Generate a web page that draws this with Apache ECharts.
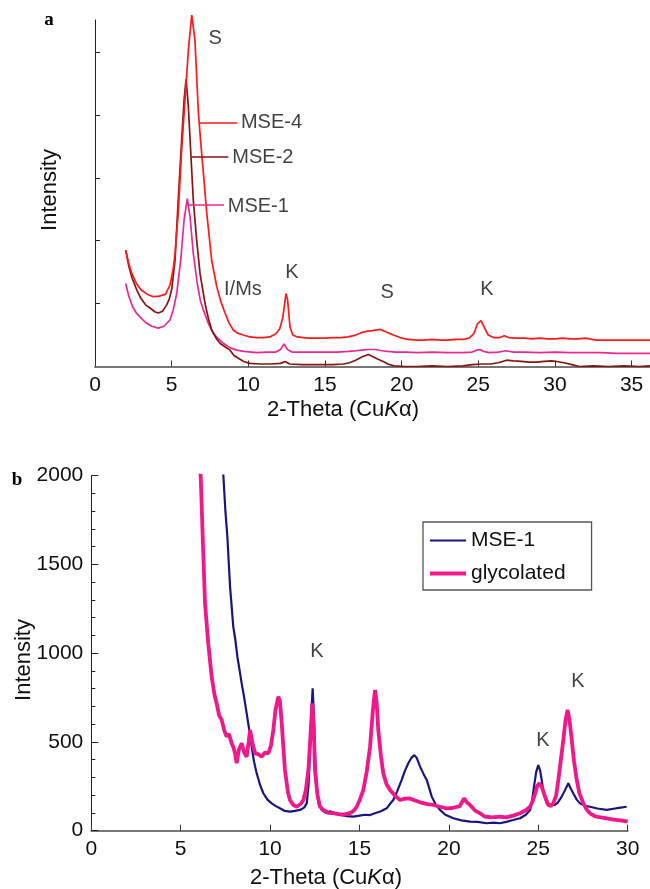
<!DOCTYPE html>
<html>
<head>
<meta charset="utf-8">
<script src="https://cdn.jsdelivr.net/npm/echarts@6/dist/echarts.min.js"></script>
<style>
html, body { margin: 0; padding: 0; background: #fff; }
#main { width: 650px; height: 889px; }
</style>
</head>
<body>
<div id="main"></div>
<script>
// panel a : [2-theta, intensity (tick units, offset curves)]
var mse4 = [[2.0,1.85],[2.2,1.64],[2.4,1.48],[2.7,1.32],[3.0,1.22],[3.4,1.15],[3.8,1.11],[4.2,1.12],[4.6,1.15],[4.9,1.3],[5.1,1.55],[5.22,1.8],[5.43,2.44],[5.65,3.44],[5.87,4.24],[6.09,5.03],[6.31,5.59],[6.52,5.19],[6.74,4.05],[6.9,3.55],[7.06,3.1],[7.29,2.44],[7.61,1.69],[7.94,1.27],[8.2,1.04],[8.48,0.85],[8.75,0.69],[9.02,0.58],[9.3,0.53],[9.67,0.5],[10.1,0.47],[10.55,0.46],[11.0,0.46],[11.4,0.47],[11.8,0.52],[12.05,0.6],[12.25,0.78],[12.38,1.02],[12.46,1.16],[12.56,1.06],[12.72,0.63],[12.9,0.5],[13.2,0.47],[13.6,0.46],[14.0,0.45],[14.5,0.45],[15.0,0.45],[15.5,0.46],[16.0,0.46],[16.5,0.47],[17.0,0.5],[17.3,0.53],[17.7,0.56],[18.1,0.57],[18.6,0.59],[19.0,0.55],[19.46,0.5],[19.9,0.46],[20.4,0.43],[20.98,0.42],[21.5,0.42],[22.0,0.43],[22.5,0.42],[23.0,0.42],[23.5,0.43],[24.0,0.43],[24.4,0.45],[24.7,0.52],[24.95,0.68],[25.18,0.73],[25.4,0.62],[25.65,0.5],[26.0,0.46],[26.4,0.46],[26.7,0.49],[27.0,0.46],[27.5,0.45],[28.0,0.45],[28.5,0.44],[29.0,0.45],[29.5,0.44],[30.0,0.44],[30.5,0.45],[31.0,0.44],[31.5,0.44],[32.0,0.45],[32.7,0.42],[33.5,0.42],[34.3,0.42],[35.2,0.42],[36.2,0.42]];
var mse2 = [[2.0,1.85],[2.2,1.6],[2.4,1.42],[2.72,1.22],[3.0,1.08],[3.3,0.98],[3.59,0.93],[3.9,0.87],[4.13,0.85],[4.4,0.88],[4.68,0.98],[4.85,1.08],[5.0,1.22],[5.22,1.69],[5.43,2.65],[5.65,3.6],[5.81,4.24],[5.94,4.57],[6.09,4.13],[6.26,3.34],[6.41,2.65],[6.63,2.01],[6.85,1.48],[7.18,1.0],[7.4,0.76],[7.61,0.58],[7.9,0.45],[8.15,0.37],[8.5,0.31],[8.81,0.26],[9.05,0.18],[9.35,0.13],[9.7,0.08],[10.1,0.05],[10.8,0.04],[11.5,0.04],[12.1,0.05],[12.4,0.08],[12.7,0.04],[13.5,0.03],[14.5,0.03],[15.5,0.03],[16.2,0.04],[16.6,0.06],[17.0,0.1],[17.4,0.15],[17.83,0.19],[18.1,0.16],[18.5,0.11],[18.8,0.08],[19.1,0.04],[19.5,0.01],[20.2,0.0],[21.0,0.0],[22.0,0.01],[23.0,0.0],[24.0,0.01],[24.6,0.03],[25.2,0.04],[25.8,0.04],[26.3,0.06],[26.85,0.1],[27.3,0.09],[27.8,0.08],[28.3,0.07],[28.8,0.07],[29.3,0.08],[29.8,0.09],[30.1,0.08],[30.6,0.06],[31.1,0.03],[31.6,0.0],[32.5,0.01],[33.5,0.0],[34.5,0.01],[35.5,0.0],[36.2,0.01]];
var mse1a = [[2.0,1.32],[2.2,1.12],[2.45,0.95],[2.7,0.85],[2.93,0.79],[3.3,0.7],[3.7,0.64],[4.13,0.61],[4.5,0.64],[4.89,0.74],[5.1,0.9],[5.33,1.16],[5.59,1.69],[5.81,2.33],[6.02,2.67],[6.2,2.38],[6.41,1.8],[6.67,1.32],[6.87,1.05],[7.07,0.9],[7.4,0.68],[7.72,0.53],[8.0,0.45],[8.37,0.37],[8.8,0.3],[9.24,0.26],[9.7,0.24],[10.2,0.23],[10.55,0.22],[11.2,0.23],[11.8,0.23],[12.1,0.27],[12.33,0.36],[12.55,0.27],[12.85,0.23],[13.5,0.23],[14.2,0.23],[15.0,0.23],[15.8,0.23],[16.5,0.24],[17.0,0.25],[17.4,0.26],[17.83,0.27],[18.3,0.27],[18.7,0.25],[19.1,0.24],[19.6,0.23],[20.3,0.23],[21.0,0.22],[22.0,0.23],[23.0,0.22],[24.0,0.22],[24.6,0.23],[24.9,0.26],[25.1,0.27],[25.35,0.24],[25.7,0.22],[26.3,0.23],[26.8,0.25],[27.3,0.23],[28.0,0.23],[29.0,0.22],[30.0,0.23],[31.0,0.22],[32.0,0.22],[33.0,0.22],[34.0,0.21],[35.0,0.21],[36.2,0.21]];

// panel b : [2-theta, intensity]
var mse1b = [[7.3,2200],[7.39,1994],[7.5,1800],[7.61,1656],[7.76,1375],[7.94,1150],[8.05,1080],[8.17,980],[8.3,900],[8.41,830],[8.55,750],[8.69,661],[8.83,570],[8.97,473],[9.1,390],[9.25,323],[9.45,255],[9.62,211],[9.85,175],[10.09,154],[10.3,140],[10.55,126],[10.8,112],[11.11,107],[11.4,112],[11.67,117],[11.9,130],[12.05,154],[12.15,260],[12.23,436],[12.3,650],[12.38,802],[12.45,650],[12.51,436],[12.6,250],[12.7,154],[12.9,115],[13.17,98],[13.35,110],[13.7,95],[14.0,88],[14.3,82],[14.65,79],[15.0,85],[15.3,90],[15.59,88],[15.9,100],[16.2,110],[16.52,126],[16.7,150],[16.89,173],[17.1,220],[17.36,286],[17.55,340],[17.73,380],[17.9,410],[18.07,426],[18.2,410],[18.39,361],[18.58,320],[18.76,286],[18.9,240],[19.04,192],[19.25,150],[19.5,117],[19.8,90],[20.25,70],[20.7,58],[21.18,51],[21.6,50],[22.11,42],[22.5,45],[22.86,42],[23.2,50],[23.6,60],[23.98,70],[24.3,90],[24.54,117],[24.65,170],[24.76,248],[24.88,330],[25.0,370],[25.1,340],[25.19,286],[25.3,210],[25.47,154],[25.7,145],[25.93,145],[26.1,160],[26.31,192],[26.5,230],[26.68,267],[26.8,240],[26.96,210],[27.15,175],[27.33,154],[27.6,140],[27.89,135],[28.3,125],[28.82,117],[29.3,125],[29.6,130],[29.94,135]];
var glycolated = [[6.0,2150],[6.12,1994],[6.23,1656],[6.36,1281],[6.54,1056],[6.73,868],[6.9,760],[7.01,718],[7.15,650],[7.29,624],[7.45,560],[7.57,530],[7.7,545],[7.85,492],[7.95,470],[8.05,430],[8.13,380],[8.25,455],[8.41,492],[8.55,440],[8.69,417],[8.8,500],[8.88,567],[9.0,500],[9.16,436],[9.35,430],[9.53,417],[9.7,440],[9.9,436],[10.05,480],[10.18,567],[10.3,680],[10.46,755],[10.55,730],[10.65,605],[10.83,342],[11.0,215],[11.11,173],[11.3,145],[11.49,135],[11.7,150],[11.86,173],[12.0,230],[12.14,342],[12.25,520],[12.36,718],[12.45,560],[12.51,342],[12.65,200],[12.79,135],[13.0,115],[13.3,100],[13.6,98],[13.9,92],[14.2,92],[14.5,100],[14.7,115],[14.84,135],[15.0,170],[15.21,229],[15.4,330],[15.59,473],[15.75,680],[15.87,793],[15.96,720],[16.05,567],[16.2,420],[16.33,323],[16.5,265],[16.71,229],[17.0,195],[17.27,173],[17.5,180],[17.82,182],[18.1,170],[18.4,160],[18.8,150],[19.13,145],[19.5,135],[19.88,126],[20.2,128],[20.6,138],[20.85,182],[21.0,160],[21.18,145],[21.45,115],[21.74,98],[22.0,80],[22.4,75],[22.86,79],[23.2,75],[23.6,85],[23.98,98],[24.3,115],[24.54,135],[24.7,170],[24.82,210],[24.95,255],[25.06,267],[25.2,245],[25.35,200],[25.56,145],[25.7,140],[25.84,155],[26.0,200],[26.12,286],[26.25,390],[26.4,511],[26.52,620],[26.64,680],[26.75,620],[26.87,511],[27.0,390],[27.15,286],[27.3,210],[27.52,154],[27.7,120],[27.89,98],[28.2,80],[28.5,75],[28.82,70],[29.2,62],[29.6,58],[30.0,51]];

// text on the plots : [x, y, text]
var aPeakNotes = [[7.83,5.21,'S'],[9.65,1.22,'I/Ms'],[12.85,1.49,'K'],[19.05,1.17,'S'],[25.57,1.22,'K']];
var aCurveTags = [[9.52,3.88,'MSE-4'],[8.96,3.32,'MSE-2'],[8.66,2.55,'MSE-1']];
var bPeakNotes = [[12.62,1007,'K'],[25.26,510,'K'],[27.22,838,'K']];
var aTicksX = [0,5,10,15,20,25,30,35];
var aTicksY = [1,2,3,4,5];

var FONT = '"Liberation Sans", Arial, Helvetica, sans-serif';
var RED = '#ff1a1a', BROWN = '#8a1414', PINK = '#ec2896', NAVY = '#1b1583', MAGENTA = '#f0188a';

function leader(x1, x2, y, color) {
	return {
		silent: true, symbol: 'none', label: { show: false },
		lineStyle: { color: color, width: 1.6, type: 'solid' },
		emphasis: { disabled: true },
		data: [[{ coord: [x1, y] }, { coord: [x2, y] }]]
	};
}

var chart = echarts.init(document.getElementById('main'), null, { renderer: 'canvas' });

var option = {
	animation: false,
	textStyle: { fontFamily: FONT },
	grid: [
		{ left: 95, right: 0, top: 20, height: 346.5 },
		{ left: 91.3, width: 536.4, top: 475.7, height: 355 }
	],
	legend: {
		data: [
			{ name: 'MSE-1', icon: 'path://M0,0H36V2H0Z' },
			{ name: 'glycolated', icon: 'path://M0,0H36V4H0Z' }
		],
		orient: 'vertical',
		left: 423, top: 522,
		padding: [8, 26, 6, 7],
		itemWidth: 36, itemHeight: 14, itemGap: 12,
		borderColor: '#555', borderWidth: 1.3,
		selectedMode: false,
		textStyle: { fontSize: 21, color: '#111', fontFamily: FONT }
	},
	xAxis: [
		{
			gridIndex: 0, type: 'value', min: 0, max: 36.2, interval: 5,
			axisLine: { lineStyle: { color: '#777', width: 2 } },
			axisTick: { inside: true, length: 6, lineStyle: { color: '#333' }, customValues: aTicksX },
			axisLabel: { fontSize: 21, color: '#111', margin: 8, customValues: aTicksX,
				formatter: function (v) { return v % 5 === 0 ? String(v) : ''; } },
			splitLine: { show: false }
		},
		{
			gridIndex: 1, type: 'value', min: 0, max: 30, interval: 5,
			axisLine: { lineStyle: { color: '#777', width: 2 } },
			axisTick: { inside: true, length: 6, lineStyle: { color: '#333' } },
			axisLabel: { fontSize: 21, color: '#111', margin: 8 },
			splitLine: { show: false }
		}
	],
	yAxis: [
		{
			gridIndex: 0, type: 'value', min: 0, max: 5.51, interval: 1,
			axisLine: { show: true, lineStyle: { color: '#222', width: 1 } },
			axisTick: { show: true, inside: true, length: 5, lineStyle: { color: '#222' }, customValues: aTicksY },
			axisLabel: { show: false },
			splitLine: { show: false }
		},
		{
			gridIndex: 1, type: 'value', min: 0, max: 2000, interval: 500,
			axisLine: { show: true, lineStyle: { color: '#222', width: 1 } },
			axisTick: { show: true, inside: true, length: 7, lineStyle: { color: '#222' } },
			minorTick: { show: true, splitNumber: 5, length: 4, lineStyle: { color: '#222' } },
			axisLabel: { fontSize: 21, color: '#111', margin: 8, formatter: function (v) { return String(v); } },
			splitLine: { show: false }
		}
	],
	series: [
		{ name: 'MSE-1 (a)', type: 'line', xAxisIndex: 0, yAxisIndex: 0, data: mse1a, symbol: 'none',
			lineStyle: { color: PINK, width: 1.7 }, itemStyle: { color: PINK },
			markLine: leader(6.1, 8.41, 2.57, PINK) },
		{ name: 'MSE-2 (a)', type: 'line', xAxisIndex: 0, yAxisIndex: 0, data: mse2, symbol: 'none',
			lineStyle: { color: BROWN, width: 1.7 }, itemStyle: { color: BROWN },
			markLine: leader(6.31, 8.7, 3.33, BROWN) },
		{ name: 'MSE-4 (a)', type: 'line', xAxisIndex: 0, yAxisIndex: 0, data: mse4, symbol: 'none', clip: false,
			lineStyle: { color: RED, width: 1.7 }, itemStyle: { color: RED },
			markLine: leader(6.83, 9.28, 3.88, RED) },
		{ name: 'MSE-1', type: 'line', xAxisIndex: 1, yAxisIndex: 1, data: mse1b, symbol: 'none',
			lineStyle: { color: NAVY, width: 2.2 }, itemStyle: { color: NAVY } },
		{ name: 'glycolated', type: 'line', xAxisIndex: 1, yAxisIndex: 1, data: glycolated, symbol: 'none',
			lineStyle: { color: MAGENTA, width: 3.8 }, itemStyle: { color: MAGENTA } },
		{ name: 'notes a', type: 'scatter', xAxisIndex: 0, yAxisIndex: 0, data: aPeakNotes, symbolSize: 0, silent: true,
			label: { show: true, position: 'inside', fontSize: 20, color: '#111', formatter: function (p) { return p.data[2]; } } },
		{ name: 'tags a', type: 'scatter', xAxisIndex: 0, yAxisIndex: 0, data: aCurveTags, symbolSize: 0, silent: true,
			label: { show: true, position: 'right', distance: 0, fontSize: 20, color: '#111', formatter: function (p) { return p.data[2]; } } },
		{ name: 'notes b', type: 'scatter', xAxisIndex: 1, yAxisIndex: 1, data: bPeakNotes, symbolSize: 0, silent: true,
			label: { show: true, position: 'inside', fontSize: 20, color: '#111', formatter: function (p) { return p.data[2]; } } }
	],
	graphic: [
		{ type: 'text', x: 49, y: 20, style: { text: 'a', font: 'bold 19px "Liberation Serif", "Times New Roman", serif', fill: '#000', align: 'center', verticalAlign: 'middle' } },
		{ type: 'text', x: 17, y: 480, style: { text: 'b', font: 'bold 19px "Liberation Serif", "Times New Roman", serif', fill: '#000', align: 'center', verticalAlign: 'middle' } },
		{ type: 'text', x: 50, y: 190, rotation: Math.PI / 2, style: { text: 'Intensity', fontSize: 22, fontFamily: FONT, fill: '#111', align: 'center', verticalAlign: 'middle' } },
		{ type: 'text', x: 24, y: 660, rotation: Math.PI / 2, style: { text: 'Intensity', fontSize: 22, fontFamily: FONT, fill: '#111', align: 'center', verticalAlign: 'middle' } },
		{ type: 'text', x: 343, y: 410, style: { text: '2-Theta (Cu{k|K}α)', fontSize: 22, fontFamily: FONT, fill: '#111', align: 'center', verticalAlign: 'middle',
			rich: { k: { fontSize: 22, fontFamily: FONT, fontStyle: 'italic', fill: '#111' } } } },
		{ type: 'text', x: 326, y: 878, style: { text: '2-Theta (Cu{k|K}α)', fontSize: 22, fontFamily: FONT, fill: '#111', align: 'center', verticalAlign: 'middle',
			rich: { k: { fontSize: 22, fontFamily: FONT, fontStyle: 'italic', fill: '#111' } } } }
	]
};

chart.setOption(option);
</script>
</body>
</html>
